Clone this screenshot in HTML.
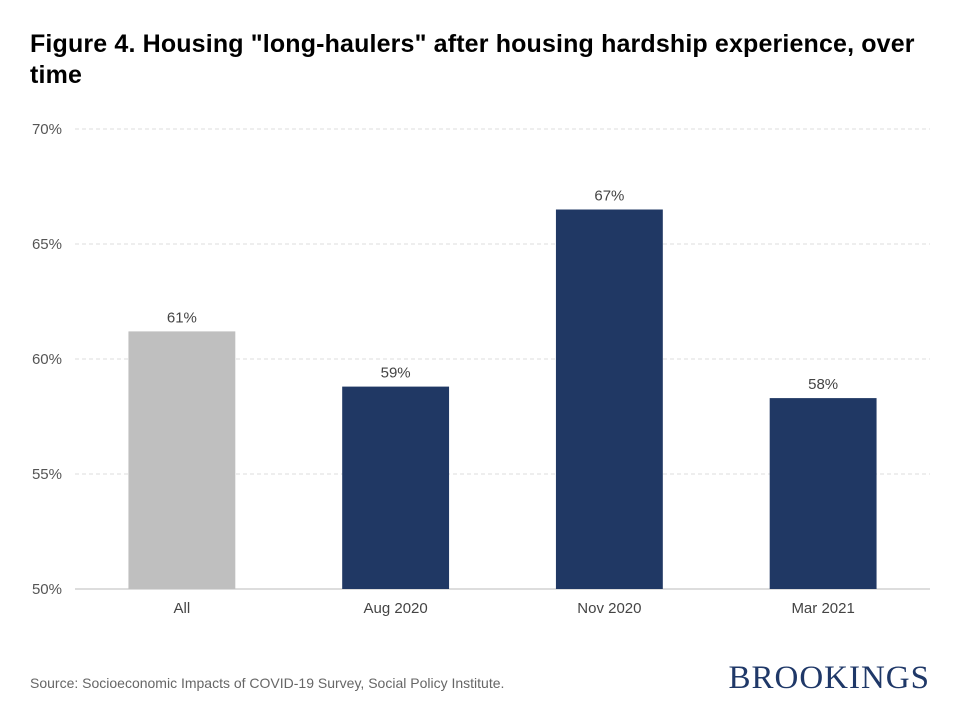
<!DOCTYPE html>
<html><head><meta charset="utf-8"><style>
body{margin:0;background:#fff;}
#wrap{position:relative;width:960px;height:720px;font-family:"Liberation Sans",Arial,sans-serif;}
h1{position:absolute;left:30px;top:29px;margin:0;font-size:25px;font-weight:bold;line-height:31px;color:#000;width:920px;white-space:nowrap;letter-spacing:0.15px;}
.src{position:absolute;left:30px;top:675px;font-size:14px;color:#666;}
.logo{position:absolute;right:30px;top:660px;font-family:"Liberation Serif",serif;font-size:33px;color:#1f3868;letter-spacing:1px;}
</style></head><body>
<div id="wrap">
<h1>Figure 4. Housing "long-haulers" after housing hardship experience, over<br>time</h1>
<svg id="chart" width="960" height="720" style="position:absolute;left:0;top:0"></svg>
<div class="src">Source: Socioeconomic Impacts of COVID-19 Survey, Social Policy Institute.</div>
<div class="logo">BROOKINGS</div>
</div>
<script>
const categories=["All","Aug 2020","Nov 2020","Mar 2021"];
const values=[61.2,58.8,66.5,58.3];
const valueLabels=["61%","59%","67%","58%"];
const colors=["#bfbfbf","#203864","#203864","#203864"];
const yTicks=[50,55,60,65,70];
const ns="http://www.w3.org/2000/svg";
const svg=document.getElementById("chart");
const x0=75,x1=930,yTop=129,yBot=589,yMin=50,yMax=70;
const y=v=>yBot-(v-yMin)/(yMax-yMin)*(yBot-yTop);
const band=(x1-x0)/categories.length;
const xc=i=>x0+band*(i+0.5);
function mk(t,a){const e=document.createElementNS(ns,t);for(const k in a)e.setAttribute(k,a[k]);svg.appendChild(e);return e;}
yTicks.forEach(t=>{
  const g=mk("line",{x1:x0,x2:x1,y1:y(t),y2:y(t),stroke:t===yMin?"#bbb":"#ddd","stroke-dasharray":t===yMin?"":"4,3"});
  
  
  const l=mk("text",{x:62,y:y(t)+5,"text-anchor":"end","font-size":15,fill:"#555","font-family":"Liberation Sans,sans-serif"});
  l.textContent=t+"%";
  
  
});
const bw=band*0.5;
categories.forEach((c,i)=>{
  const r=mk("rect",{x:xc(i)-bw/2,y:y(values[i]),width:bw,height:yBot-y(values[i]),fill:colors[i]});
  
  
  const v=mk("text",{x:xc(i),y:y(values[i])-9,"text-anchor":"middle","font-size":15,fill:"#444","font-family":"Liberation Sans,sans-serif"});
  v.textContent=valueLabels[i];
  
  
  const t=mk("text",{x:xc(i),y:yBot+24,"text-anchor":"middle","font-size":15,fill:"#444","font-family":"Liberation Sans,sans-serif"});
  t.textContent=c;
  
  
});
</script>
</body></html>
